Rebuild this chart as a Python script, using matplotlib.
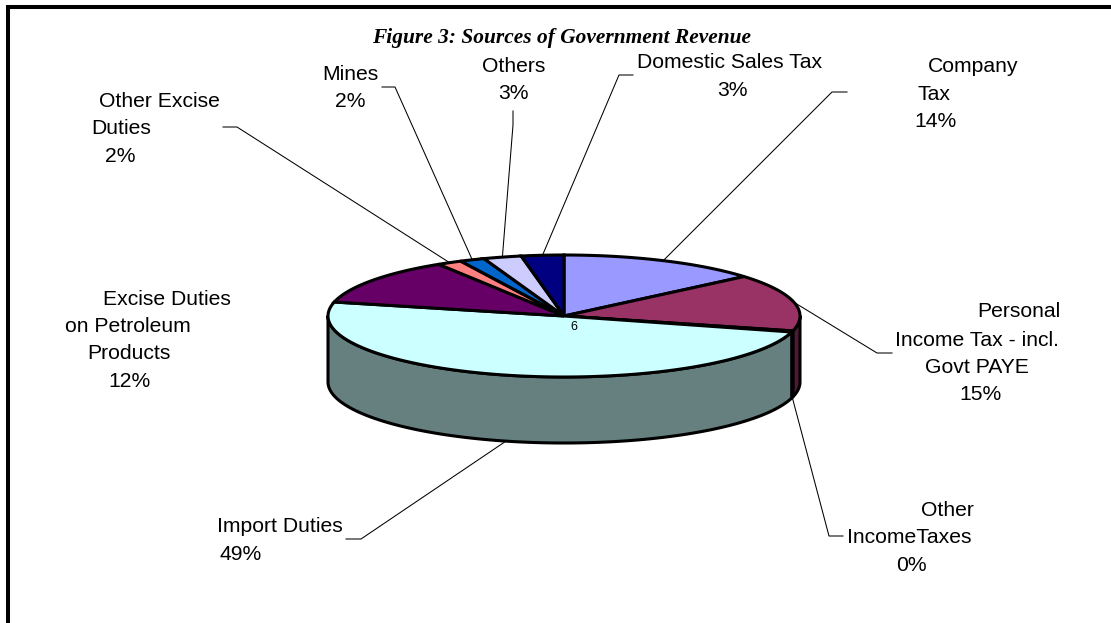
# Sources of government revenue, drawn as a tilted 3D pie
import numpy as np
import matplotlib
matplotlib.use('Agg')
import matplotlib.pyplot as plt
from matplotlib.patches import Polygon

# Data
categories = ['Company Tax', 'Personal Income Tax - incl. Govt PAYE', 'Other IncomeTaxes',
              'Import Duties', 'Excise Duties on Petroleum Products', 'Other Excise Duties',
              'Mines', 'Others', 'Domestic Sales Tax']
shares = [13.8, 15.1, 0.3, 49.4, 12.4, 1.7, 1.7, 2.6, 2.9]
label_lines = [['Company', 'Tax'],
               ['Personal', 'Income Tax - incl.', 'Govt PAYE'],
               ['Other', 'IncomeTaxes'],
               ['Import Duties'],
               ['Excise Duties', 'on Petroleum', 'Products'],
               ['Other Excise', 'Duties'],
               ['Mines'],
               ['Others'],
               ['Domestic Sales Tax']]

# Styles
top_colors = ['#9999FF', '#993366', '#000000', '#CCFFFF', '#660066', '#FF8080',
              '#0066CC', '#CCCCFF', '#000080']
side_colors = ['#4D4D80', '#4D1A33', '#000000', '#668080', '#330033', '#804040',
               '#003366', '#666680', '#000040']

# Pie geometry in pixels
cx, cy = 564, 316
rx, ry = 236, 61
depth = 66

# Text starts (x of each line, top line first, percent line last) and baselines
label_x = [[928, 917, 914],
           [977, 895, 925, 959],
           [921, 847, 896],
           [217, 219],
           [103, 65, 87, 108],
           [99, 91, 105],
           [322, 335],
           [482, 498],
           [637, 717]]
label_base = [[72, 100, 127],
              [317, 346, 373, 400],
              [516, 543, 571],
              [532, 560],
              [305, 332, 359, 387],
              [107, 134, 162],
              [80, 107],
              [72, 99],
              [68, 96]]

# Elbow of each leader line: start of the flat part, then the bend
leader_x = [(847, 832), (892, 877), (843, 829), (346, 361), None,
            (223, 237), (382, 395), (513, 513), (633, 619)]
leader_y = [92, 353, 536, 539, None, 127, 87, 111, 75]
leader_bend_y = [92, 353, 536, 539, None, 127, 87, 125, 75]


def rim(t_deg, drop=0):
    # t_deg runs clockwise from the top of the ellipse
    t = np.radians(t_deg)
    return cx + rx * np.sin(t), cy - ry * np.cos(t) + drop


fig = plt.figure(figsize=(11.11, 6.23), dpi=100)
ax = fig.add_axes([0, 0, 1, 1])
ax.set_xlim(0, 1111)
ax.set_ylim(623, 0)
ax.axis('off')

# Frame: only top and left edges
ax.plot([6, 1111], [7, 7], color='black', lw=2.9, solid_capstyle='butt')
ax.plot([8, 8], [5, 623], color='black', lw=2.9, solid_capstyle='butt')

ends = np.cumsum(shares) / np.sum(shares) * 360
starts = np.concatenate([[0], ends[:-1]])

# Outer wall, only the front half of the rim shows
for a, b, col in zip(starts, ends, side_colors):
    lo, hi = max(a, 90), min(b, 270)
    if lo >= hi:
        continue
    t = np.linspace(lo, hi, 100)
    xt, yt = rim(t)
    xb, yb = rim(t[::-1], depth)
    pts = np.column_stack([np.concatenate([xt, xb]), np.concatenate([yt, yb])])
    ax.add_patch(Polygon(pts, closed=True, fc=col, ec='black', lw=2.2, joinstyle='round'))

# Top face
for a, b, col in zip(starts, ends, top_colors):
    t = np.linspace(a, b, 100)
    xt, yt = rim(t)
    pts = np.column_stack([np.concatenate([[cx], xt]), np.concatenate([[cy], yt])])
    ax.add_patch(Polygon(pts, closed=True, fc=col, ec='black', lw=2.2, joinstyle='miter'))

# Leader lines run from the elbow to the middle of each slice
for i in range(len(shares)):
    if leader_x[i] is None:
        continue
    mid = (starts[i] + ends[i]) / 2
    xm, ym = rim(mid, depth if 90 < mid < 270 else 0)
    ax.plot([leader_x[i][0], leader_x[i][1], xm], [leader_y[i], leader_bend_y[i], ym],
            color='black', lw=0.75, zorder=1)

# Labels, one text per line, the percent is rounded from the share
for i, lines in enumerate(label_lines):
    pct = f'{round(shares[i] / np.sum(shares) * 100)}%'
    for text, x, y in zip(lines + [pct], label_x[i], label_base[i]):
        ax.text(x, y, text, family='Liberation Sans', fontsize=15.2, color='black',
                ha='left', va='baseline')

ax.text(372, 43, 'Figure 3: Sources of Government Revenue', family='Liberation Serif',
        fontsize=15.4, fontweight='bold', fontstyle='italic', ha='left', va='baseline')
ax.text(574, 330, '6', family='Liberation Sans', fontsize=9, ha='center', va='baseline')

fig.savefig('out.png', dpi=100)
